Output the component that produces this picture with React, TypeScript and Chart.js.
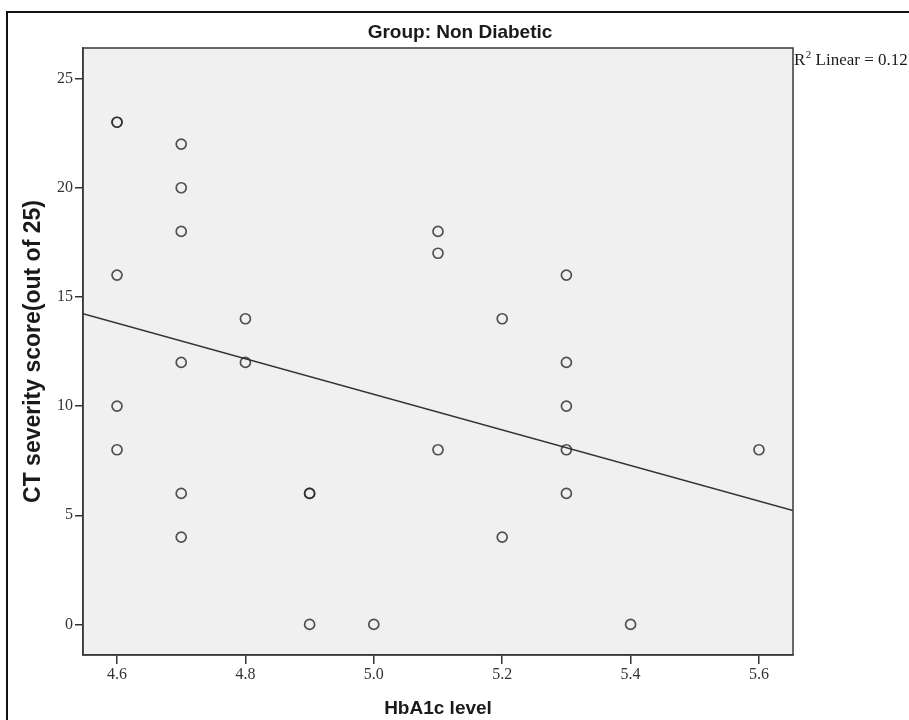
import React, { useEffect, useRef } from "react";
import { Chart, registerables } from "chart.js";

Chart.register(...registerables);

// HbA1c level (x) and CT severity score (y) for each case
const hba1c = [
  4.6, 4.6, 4.6, 4.6, 4.6,
  4.7, 4.7, 4.7, 4.7, 4.7, 4.7,
  4.8, 4.8,
  4.9, 4.9, 4.9,
  5.0,
  5.1, 5.1, 5.1,
  5.2, 5.2,
  5.3, 5.3, 5.3, 5.3, 5.3,
  5.4,
  5.6,
];
const ctScore = [
  23, 23, 16, 10, 8,
  22, 20, 18, 12, 6, 4,
  14, 12,
  6, 6, 0,
  0,
  18, 17, 8,
  14, 4,
  16, 12, 10, 8, 6,
  0,
  8,
];

// Linear fit line end points (read at the plot edges)
const fitX = [4.547, 5.653];
const fitY = [14.23, 5.22];

const xTicks = [4.6, 4.8, 5.0, 5.2, 5.4, 5.6];
const yTicks = [0, 5, 10, 15, 20, 25];
const xRange = [4.547, 5.653];
const yRange = [-1.4, 26.4];

const titleText = "Group: Non Diabetic";
const xTitle = "HbA1c level";
const yTitle = "CT severity score(out of 25)";
const r2Label = "0.12";

export default function App() {
  const ref = useRef<HTMLCanvasElement | null>(null);

  useEffect(() => {
    if (!ref.current) return;

    const decor = {
      id: "decor",
      beforeDraw(chart: any) {
        const { ctx, chartArea } = chart;
        ctx.save();
        ctx.fillStyle = "#ffffff";
        ctx.fillRect(0, 0, chart.width, chart.height);
        ctx.fillStyle = "#f0f0f0";
        ctx.fillRect(
          chartArea.left,
          chartArea.top,
          chartArea.right - chartArea.left,
          chartArea.bottom - chartArea.top
        );
        ctx.restore();
      },
      afterDraw(chart: any) {
        const { ctx, chartArea } = chart;
        ctx.save();
        // outer frame
        ctx.strokeStyle = "#111111";
        ctx.lineWidth = 2;
        ctx.strokeRect(7, 12, 1000, 1000);
        // plot frame
        ctx.strokeStyle = "#3a3a3a";
        ctx.lineWidth = 1.5;
        ctx.strokeRect(
          chartArea.left,
          chartArea.top,
          chartArea.right - chartArea.left,
          chartArea.bottom - chartArea.top
        );
        // title
        ctx.fillStyle = "#1a1a1a";
        ctx.font = "bold 19px 'Liberation Sans', Arial, sans-serif";
        ctx.textAlign = "center";
        ctx.textBaseline = "alphabetic";
        ctx.fillText(titleText, 460, 38);
        // R² label
        ctx.textAlign = "left";
        ctx.font = "17px 'Liberation Serif', 'Times New Roman', serif";
        let x = chartArea.right + 1;
        ctx.fillText("R", x, 65);
        x += ctx.measureText("R").width;
        ctx.font = "11px 'Liberation Serif', 'Times New Roman', serif";
        ctx.fillText("2", x + 0.5, 58);
        x += ctx.measureText("2").width + 0.5;
        ctx.font = "17px 'Liberation Serif', 'Times New Roman', serif";
        ctx.fillText(" Linear = " + r2Label, x, 65);
        ctx.restore();
      },
    };

    const tickFont = { family: "'Liberation Serif', 'Times New Roman', serif", size: 16 };

    const chart = new Chart(ref.current, {
      type: "scatter",
      data: {
        datasets: [
          {
            type: "scatter",
            data: hba1c.map((v, i) => ({ x: v, y: ctScore[i] })),
            pointStyle: "circle",
            pointRadius: 5,
            pointBackgroundColor: "rgba(0,0,0,0)",
            pointBorderColor: "rgba(40,40,40,0.8)",
            pointBorderWidth: 1.7,
            order: 1,
          },
          {
            type: "line",
            data: fitX.map((v, i) => ({ x: v, y: fitY[i] })),
            borderColor: "#333333",
            borderWidth: 1.5,
            pointRadius: 0,
            fill: false,
            order: 2,
          } as any,
        ],
      },
      options: {
        responsive: false,
        animation: false,
        layout: { padding: { top: 48, right: 116, left: 0, bottom: 0 } },
        plugins: {
          legend: { display: false },
          tooltip: { enabled: false },
          title: { display: false },
        },
        scales: {
          x: {
            type: "linear",
            min: xRange[0],
            max: xRange[1],
            afterFit: (s: any) => {
              s.height = 65;
            },
            afterBuildTicks: (s: any) => {
              s.ticks = xTicks.map((v) => ({ value: v }));
            },
            ticks: {
              font: tickFont,
              color: "#333333",
              padding: 1,
              autoSkip: false,
              maxRotation: 0,
              callback: (v: any) => Number(v).toFixed(1),
            },
            grid: {
              display: true,
              drawOnChartArea: false,
              drawTicks: true,
              tickLength: 9,
              color: "#333333",
              lineWidth: 1.5,
            },
            border: { display: true, color: "#3a3a3a", width: 1.5 },
            title: {
              display: true,
              text: xTitle,
              color: "#1a1a1a",
              font: { family: "'Liberation Sans', Arial, sans-serif", size: 19, weight: "bold" },
              padding: { top: 0, bottom: 0 },
            },
          },
          y: {
            type: "linear",
            min: yRange[0],
            max: yRange[1],
            afterFit: (s: any) => {
              s.width = 83;
            },
            afterBuildTicks: (s: any) => {
              s.ticks = yTicks.map((v) => ({ value: v }));
            },
            ticks: {
              font: tickFont,
              color: "#333333",
              padding: 2,
              autoSkip: false,
            },
            grid: {
              display: true,
              drawOnChartArea: false,
              drawTicks: true,
              tickLength: 8,
              color: "#333333",
              lineWidth: 1.5,
            },
            border: { display: true, color: "#3a3a3a", width: 1.5 },
            title: {
              display: true,
              text: yTitle,
              color: "#1a1a1a",
              font: { family: "'Liberation Sans', Arial, sans-serif", size: 23, weight: "bold" },
              padding: { top: 20, bottom: 0 },
            },
          },
        },
      },
      plugins: [decor],
    });

    return () => chart.destroy();
  }, []);

  return (
    <div style={{ position: "fixed", left: 0, top: 0, width: 909, height: 720 }}>
      <canvas ref={ref} width={909} height={720} style={{ width: 909, height: 720, display: "block" }} />
    </div>
  );
}
